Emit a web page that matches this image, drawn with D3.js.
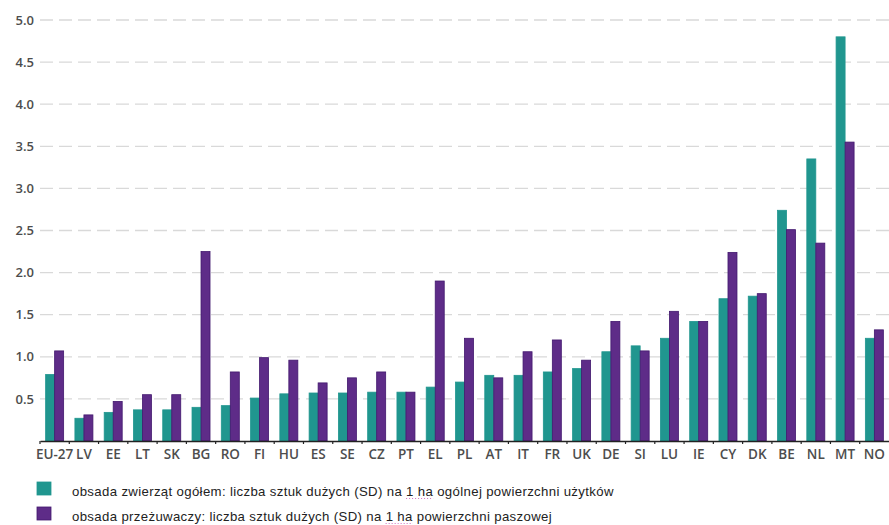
<!DOCTYPE html>
<html>
<head>
<meta charset="utf-8">
<script src="https://cdn.jsdelivr.net/npm/d3@7"></script>
<style>
body{margin:0;background:#fff;}
svg{display:block;}
</style>
</head>
<body>
<script>
const countries = ["EU-27","LV","EE","LT","SK","BG","RO","FI","HU","ES","SE","CZ","PT","EL","PL","AT","IT","FR","UK","DE","SI","LU","IE","CY","DK","BE","NL","MT","NO"];
const ogolem = [0.79,0.27,0.34,0.37,0.37,0.40,0.42,0.51,0.56,0.57,0.57,0.58,0.58,0.64,0.70,0.78,0.78,0.82,0.86,1.06,1.13,1.22,1.42,1.69,1.72,2.74,3.35,4.80,1.22];
const przezuwacze = [1.07,0.31,0.47,0.55,0.55,2.25,0.82,0.99,0.96,0.69,0.75,0.82,0.58,1.90,1.22,0.75,1.06,1.20,0.96,1.42,1.07,1.54,1.42,2.24,1.75,2.51,2.35,3.55,1.32];
const yTicks = [0.5,1.0,1.5,2.0,2.5,3.0,3.5,4.0,4.5,5.0];
const seriesNames = ["obsada zwierząt ogółem: liczba sztuk dużych (SD) na 1 ha ogólnej powierzchni użytków",
                     "obsada przeżuwaczy: liczba sztuk dużych (SD) na 1 ha powierzchni paszowej"];
const colors = ["#20968f","#5e2c88"];
const strokes = ["#20968f","#42186e"];

const w = 889, h = 525;
const svg = d3.select("body").append("svg").attr("width", w).attr("height", h);

const x = d3.scaleBand().domain(countries).range([40, 889]);
const y = d3.scaleLinear().domain([0, 5]).range([441, 20]);
const bw = 9;

// grid
svg.append("g")
  .selectAll("line").data(yTicks).join("line")
  .attr("x1", 40).attr("x2", 889)
  .attr("y1", d => y(d)).attr("y2", d => y(d))
  .attr("stroke", "#d9d9d9").attr("stroke-width", 1.3)
  .attr("stroke-dasharray", "13,6");

const yAxis = d3.axisLeft(y).tickValues(yTicks).tickFormat(d3.format(".1f")).tickSize(0).tickPadding(0);
const gy = svg.append("g").attr("transform", "translate(34,0)").call(yAxis);
gy.select(".domain").remove();
gy.selectAll("text").attr("fill", "#4d4d4d").style("font-family", "'Open Sans'").style("font-weight", 600).style("font-size", "13px");

// bars
const data = countries.map((c, i) => ({c, v: [ogolem[i], przezuwacze[i]]}));
const grp = svg.append("g").selectAll("g").data(data).join("g")
  .attr("transform", d => `translate(${x(d.c) + x.bandwidth() / 2},0)`);
grp.selectAll("rect").data(d => d.v).join("rect")
  .attr("x", (d, i) => i === 0 ? -bw : 0)
  .attr("width", bw)
  .attr("y", d => y(d))
  .attr("height", d => y(0) - y(d))
  .attr("fill", (d, i) => colors[i])
  .attr("stroke", (d, i) => strokes[i])
  .attr("stroke-width", 0.8);

// x axis
const xAxis = d3.axisBottom(x).tickSize(0).tickPadding(8);
const gx = svg.append("g").attr("transform", "translate(0,441)").call(xAxis);
gx.select(".domain").attr("stroke", "#222").attr("stroke-width", 1.5);
gx.selectAll("text").attr("fill", "#4d4d4d").style("font-family", "'Open Sans'").style("font-weight", 600).style("font-size", "13.5px");
svg.append("g").selectAll("line").data(countries).join("line")
  .attr("x1", d => x(d)).attr("x2", d => x(d))
  .attr("y1", 441).attr("y2", 444)
  .attr("stroke", "#222").attr("stroke-width", 1.2);

// legend
const leg = svg.append("g").selectAll("g").data(seriesNames).join("g")
  .attr("transform", (d, i) => `translate(37,${482 + i * 25})`);
leg.append("rect").attr("width", 14).attr("height", 13)
  .attr("fill", (d, i) => colors[i]).attr("stroke", (d, i) => strokes[i]).attr("stroke-width", 0.8);
leg.append("text").attr("x", 35).attr("y", 14)
  .attr("fill", "#222").style("font-family", "'Liberation Sans', Arial").style("font-size", "13.2px")
  .style("letter-spacing", "0.35px")
  .text(d => d);
// dotted spell-check underline under "1 ha"
leg.each(function(d) {
  const t = d3.select(this).select("text").node();
  const i0 = d.indexOf("1 ha");
  const x0 = t.getStartPositionOfChar(i0).x;
  const x1 = t.getEndPositionOfChar(i0 + 3).x;
  d3.select(this).append("line")
    .attr("x1", x0).attr("x2", x1).attr("y1", 16.5).attr("y2", 16.5)
    .attr("stroke", "#d070c0").attr("stroke-width", 1).attr("stroke-dasharray", "1,2");
});
</script>
</body>
</html>
